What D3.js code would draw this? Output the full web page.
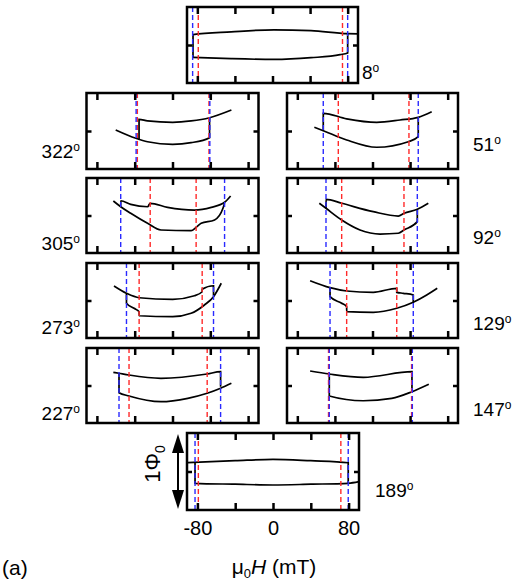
<!DOCTYPE html>
<html>
<head>
<meta charset="utf-8">
<script src="https://cdn.jsdelivr.net/npm/d3@7"></script>
<style>
body{margin:0;background:#fff;}
svg{font-family:Arial,"Liberation Sans",sans-serif;}
</style>
</head>
<body>
<script>
// panel order: top, then left/right rows, then bottom
var angles = ["8","322","51","305","92","273","129","227","147","189"];

// switching fields (mT), [negative, positive]
var blueFields = [[-85,80],[-38.5,39.5],[-52.4,48.7],[-54.8,55.1],[-49.5,47.7],
                  [-48.7,43.4],[-45.2,43.4],[-56.6,50.9],[-46,42.4],[-82.5,79.6]];
var redFields  = [[-79,74.5],[-37.2,38.6],[-36.4,38.8],[-23.6,25],[-32.8,33.5],
                  [-35.3,31.4],[-27.5,25.8],[-46,36.7],[-46.8,41.6],[-79,71.8]];

// branch A and branch B of each loop, [H (mT), flux (Phi0)]
var branchA = [
  [[-84.6,-0.163],[-84.6,0.136],[-44,0.173],[1.6,0.2],[41,0.189],[80,0.149],[91,0.147]],
  [[-60.1,0.013],[-38.8,-0.096],[-26.4,-0.141],[0.2,-0.175],[19.7,-0.154],[39.2,-0.088],[39.2,0.175]],
  [[-61.9,0.049],[-52.4,0.004],[-27.5,-0.118],[4.5,-0.214],[38.1,-0.141],[48.7,-0.075],[48.7,0.18]],
  [[-62.6,0.193],[-54.8,0.117],[-44.2,0.029],[-26.4,-0.104],[-12.2,-0.193],[19.7,-0.202],[25,-0.158],[30.3,-0.104],[44.5,-0.06],[53.4,0.096],[55.1,0.163]],
  [[-56.6,0.163],[-49.5,0.096],[-32.8,-0.06],[-13.3,-0.193],[8,-0.247],[27.5,-0.237],[33.5,-0.193],[47.7,-0.082],[47.7,0.083]],
  [[-61.9,0.193],[-48.7,0.096],[-35.3,0.037],[0.2,0.016],[23.2,0.064],[31.4,0.117],[31.4,0.149],[43.4,0.197],[43.4,0.064]],
  [[-66.4,0.264],[-45.2,0.171],[-27.5,0.127],[0.8,0.109],[25.8,0.163],[25.8,0.109],[32.8,0.096],[43.4,0.073],[43.4,-0.024]],
  [[-62.6,0.176],[-56.6,0.163],[-46,0.14],[-12.2,0.096],[36.7,0.153],[50.9,0.184],[50.9,-0.016]],
  [[-66.4,0.193],[-46,0.153],[-9.8,0.109],[42,0.184],[42,-0.083]],
  [[-91,0.114],[-40,0.14],[0,0.158],[40,0.14],[79.6,0.114],[79.6,-0.153]]
];
var branchB = [
  [[-84.6,-0.163],[-44,-0.18],[1.6,-0.19],[41,-0.167],[72,-0.127],[80,-0.104],[80,0.149]],
  [[-35.4,-0.109],[-35.4,0.154],[-26.4,0.132],[0.2,0.114],[19.7,0.132],[39.2,0.175],[62.3,0.276]],
  [[-52.4,0.004],[-52.4,0.233],[-27.5,0.16],[4.5,0.114],[29.3,0.145],[48.7,0.18],[63,0.254]],
  [[-54.8,0.117],[-54.8,0.197],[-44.2,0.149],[-26.4,0.117],[-23.6,0.163],[-5.2,0.109],[23.2,0.073],[41,0.109],[55.1,0.176],[61.5,0.26]],
  [[-49.5,0.096],[-49.5,0.216],[-32.8,0.163],[0.8,0.051],[27.5,-0.007],[33.5,0.029],[47.7,0.083],[59.4,0.163]],
  [[-48.7,0.096],[-48.7,-0.037],[-40.7,-0.104],[-35.3,-0.149],[-35.3,-0.203],[0.2,-0.216],[19.7,-0.171],[33.8,-0.06],[43.4,0.051],[51.6,0.23]],
  [[-45.2,0.171],[-45.2,0.051],[-32.8,-0.037],[-27.5,-0.083],[-27.5,-0.149],[0.8,-0.157],[25.8,-0.104],[43.4,-0.024],[57.7,0.073],[68.9,0.163]],
  [[-56.6,0.163],[-56.6,-0.096],[-46,-0.14],[-12.2,-0.216],[16.2,-0.171],[36.7,-0.104],[50.9,-0.037],[62.3,0.029]],
  [[-46,0.153],[-46,-0.14],[-9.8,-0.203],[20.5,-0.171],[42,-0.083],[59.9,0.016]],
  [[-82.5,0.114],[-82.5,-0.153],[-40,-0.165],[0,-0.175],[40,-0.165],[79.6,-0.153],[91,-0.132]]
];

var tickValues = [-80,-40,0,40,80];
var tickLabels = ["-80","0","80"];
var labelTicks = [-80,0,80];

// panel boxes and label spots
var boxes = [
  {x:187,y:7,w:171,h:76,lx:362,ly:79,anchor:"start"},
  {x:86.5,y:93,w:172,h:76,lx:80,ly:158,anchor:"end"},
  {x:287,y:93,w:171,h:76,lx:473,ly:151,anchor:"start"},
  {x:86.5,y:178,w:172,h:75,lx:80,ly:250,anchor:"end"},
  {x:287,y:178,w:171,h:75,lx:473,ly:244,anchor:"start"},
  {x:86.5,y:263,w:172,h:75,lx:80,ly:334,anchor:"end"},
  {x:287,y:263,w:171,h:75,lx:473,ly:330,anchor:"start"},
  {x:86.5,y:348,w:172,h:75,lx:80,ly:420,anchor:"end"},
  {x:287,y:348,w:171,h:75,lx:473,ly:416,anchor:"start"},
  {x:187,y:433,w:172,h:77,lx:375,ly:497,anchor:"start"}
];

var svg = d3.select("body").append("svg")
    .attr("width", 527)
    .attr("height", 582);

boxes.forEach(function(b, i){
  var x = d3.scaleLinear().domain([-91,91]).range([0,b.w]);
  var y = d3.scaleLinear().domain([-0.5,0.5]).range([b.h,0]);
  var g = svg.append("g").attr("transform","translate("+b.x+","+b.y+")");

  var line = d3.line()
    .x(function(d){return d[0];})
    .y(function(d){return d[1];})
    .curve(d3.curveMonotoneX);

  function toPx(pts){
    var out = [];
    pts.forEach(function(p){
      var px = x(p[0]);
      if(out.length && px <= out[out.length-1][0]) px = out[out.length-1][0] + 0.01;
      out.push([px, y(p[1])]);
    });
    return out;
  }

  [branchA[i], branchB[i]].forEach(function(br){
    g.append("path")
      .attr("d", line(toPx(br)))
      .attr("fill","none")
      .attr("stroke","#000")
      .attr("stroke-width",1.7);
  });

  // switching fields
  g.selectAll("line.red").data(redFields[i]).enter().append("line")
    .attr("class","red")
    .attr("x1", function(d){return x(d);}).attr("x2", function(d){return x(d);})
    .attr("y1", 0).attr("y2", b.h)
    .attr("stroke","#ff2a2a").attr("stroke-width",1.4)
    .attr("stroke-dasharray","5,3");
  g.selectAll("line.blue").data(blueFields[i]).enter().append("line")
    .attr("class","blue")
    .attr("x1", function(d){return x(d);}).attr("x2", function(d){return x(d);})
    .attr("y1", 0).attr("y2", b.h)
    .attr("stroke","#2a2aff").attr("stroke-width",1.4)
    .attr("stroke-dasharray","5,3");

  // inward ticks
  var top = g.append("g").call(d3.axisTop(x).tickValues(tickValues).tickSize(-7).tickFormat(""));
  var bot = g.append("g").attr("transform","translate(0,"+b.h+")")
    .call(d3.axisBottom(x).tickValues(tickValues).tickSize(-7).tickFormat(""));
  var lft = g.append("g").call(d3.axisLeft(y).tickValues([0]).tickSize(-5).tickFormat(""));
  var rgt = g.append("g").attr("transform","translate("+b.w+",0)")
    .call(d3.axisRight(y).tickValues([0]).tickSize(-5).tickFormat(""));
  [top,bot,lft,rgt].forEach(function(a){
    a.select(".domain").remove();
    a.selectAll("line").attr("stroke","#000").attr("stroke-width",2.5);
  });

  g.append("rect")
    .attr("width", b.w).attr("height", b.h)
    .attr("fill","none").attr("stroke","#000").attr("stroke-width",2.5);

  var t = svg.append("text")
    .attr("x", b.lx).attr("y", b.ly)
    .attr("text-anchor", b.anchor)
    .attr("font-size", 19);
  t.append("tspan").text(angles[i]);
  t.append("tspan").attr("font-size", 12).attr("dy", -7).text("o");

  if(i === boxes.length-1){
    var ax = g.append("g").attr("transform","translate(0,"+b.h+")")
      .call(d3.axisBottom(x).tickValues(labelTicks).tickSize(0).tickPadding(11)
        .tickFormat(function(d,k){return tickLabels[k];}));
    ax.select(".domain").remove();
    ax.selectAll("text").attr("font-size",20).attr("font-family","Arial,'Liberation Sans',sans-serif").attr("fill","#000");
  }
});

// 1 Phi0 scale arrow
var arr = svg.append("g");
arr.append("line").attr("x1",178).attr("x2",178).attr("y1",445).attr("y2",498)
  .attr("stroke","#000").attr("stroke-width",2);
arr.append("path").attr("d","M178,434 L172,453 L184,453 Z").attr("fill","#000");
arr.append("path").attr("d","M178,509 L172,490 L184,490 Z").attr("fill","#000");

var phi = svg.append("text")
  .attr("transform","translate(160,464) rotate(-90)")
  .attr("text-anchor","middle")
  .attr("font-size",22);
phi.append("tspan").text("1Φ");
phi.append("tspan").attr("font-size",14).attr("dy",5).text("0");

// axis title
var xt = svg.append("text").attr("x",274).attr("y",574).attr("text-anchor","middle").attr("font-size",21);
xt.append("tspan").text("μ");
xt.append("tspan").attr("font-size",13).attr("dy",4).text("0");
xt.append("tspan").attr("dy",-4).attr("font-style","italic").text("H");
xt.append("tspan").text(" (mT)");

svg.append("text").attr("x",2).attr("y",575).attr("font-size",21).text("(a)");
</script>
</body>
</html>
